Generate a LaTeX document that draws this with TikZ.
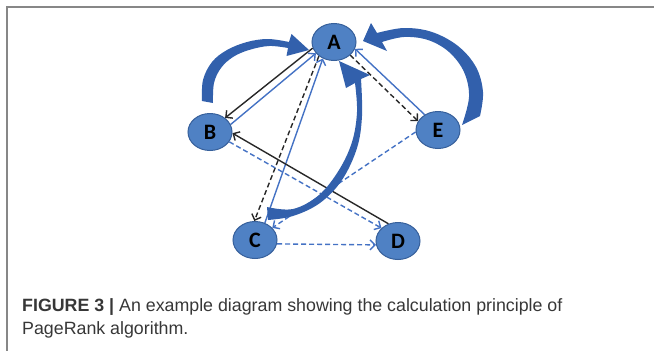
\documentclass[tikz,border=0pt]{standalone}
\usepackage{fontspec}
\setmainfont{Liberation Sans}
\newfontfamily\nodefont{Carlito}
\usetikzlibrary{arrows.meta,shapes.geometric}
\definecolor{nodefill}{RGB}{79,129,196}
\definecolor{nodeline}{RGB}{55,96,155}
\definecolor{edgeblue}{RGB}{68,114,196}
\definecolor{edgeblack}{RGB}{40,40,40}
\definecolor{bigarrow}{RGB}{50,96,172}
\definecolor{framegray}{RGB}{135,135,135}
\definecolor{captext}{RGB}{55,55,55}
\pgfdeclarelayer{bg}
\pgfsetlayers{bg,main}
\tikzset{
  vertex/.style={ellipse, draw=nodeline, line width=1pt, fill=nodefill,
    minimum width=44pt, minimum height=37pt, inner sep=0pt,
    font=\nodefont\bfseries\fontsize{22}{22}\selectfont, text=black},
  link/.style={line width=1.4pt, -{Straight Barb[length=5pt,width=10pt]}},
  blk/.style={link, edgeblack},
  blu/.style={link, edgeblue},
  dsh/.style={dash pattern=on 5pt off 3pt},
  bigarr/.style={fill=bigarrow},
  captionstyle/.style={anchor=base west, inner sep=0pt, text=captext,
    font=\fontsize{17.8}{20}\selectfont}
}
\begin{document}
\begin{tikzpicture}[x=1pt,y=-1pt]
\useasboundingbox (0,0) rectangle (654,351);
% frame
\draw[framegray, line width=2pt] (7,351) -- (7,7) -- (654,7);
% nodes
\node[vertex] (A) at (334,42) {A};
\node[vertex] (B) at (210,132) {B};
\node[vertex] (E) at (438,130) {E};
\node[vertex] (C) at (255,240) {C};
\node[vertex] (D) at (398,241) {D};
\begin{pgfonlayer}{bg}
% thin connectors
\draw[blk] (A.196) -- (B.43);
\draw[blu] (B.20) -- (A.212);
\draw[blk, dsh] (A.223) -- (C.92);
\draw[blu] (C.60) -- (A.236);
\draw[blk, dsh] (A.321) -- (E.156);
\draw[blu] (E.131) -- (A.342);
\draw[blk] (D.119) -- (B.357);
\draw[blu, dsh] (B.333) -- (D.142);
\draw[blu, dsh] (E.185) -- (C.35);
\draw[blu, dsh] (C.350) -- (D.190);
% thick curved arrows
\fill[bigarr] plot[smooth, tension=0.6] coordinates {(202,101) (203,80) (212,62) (227,50) (247,42) (268,39) (289,42)}
  -- (291.5,34) -- (309,50) -- (286.5,56)
  -- plot[smooth, tension=0.6] coordinates {(288,48) (269,46) (249,50) (233,57) (221,68) (214,83) (213,103)} -- cycle;
\fill[bigarr] plot[smooth, tension=0.6] coordinates {(480,116) (483,92) (476,67) (458,46) (432,32) (404,28) (377,33)}
  -- (371,23) -- (363,41) -- (387,51)
  -- plot[smooth, tension=0.6] coordinates {(382,42) (404,37) (428,40) (449,52) (464,72) (469,97) (462,125)} -- cycle;
\fill[bigarr] plot[smooth, tension=0.6] coordinates {(268,220) (293,216) (320,203) (342,180) (357,148) (362,116) (361,79)}
  -- (370,75) -- (339,61) -- (346,88)
  -- plot[smooth, tension=0.6] coordinates {(355,83) (357,112) (352,142) (339,170) (319,195) (293,209) (267,207)} -- cycle;
\end{pgfonlayer}
% caption
\node[captionstyle] (cap1) at (22,311) {\textbf{FIGURE 3 |} An example diagram showing the calculation principle of};
\node[captionstyle] (cap2) at (22,334) {PageRank algorithm.};
\end{tikzpicture}
\end{document}
